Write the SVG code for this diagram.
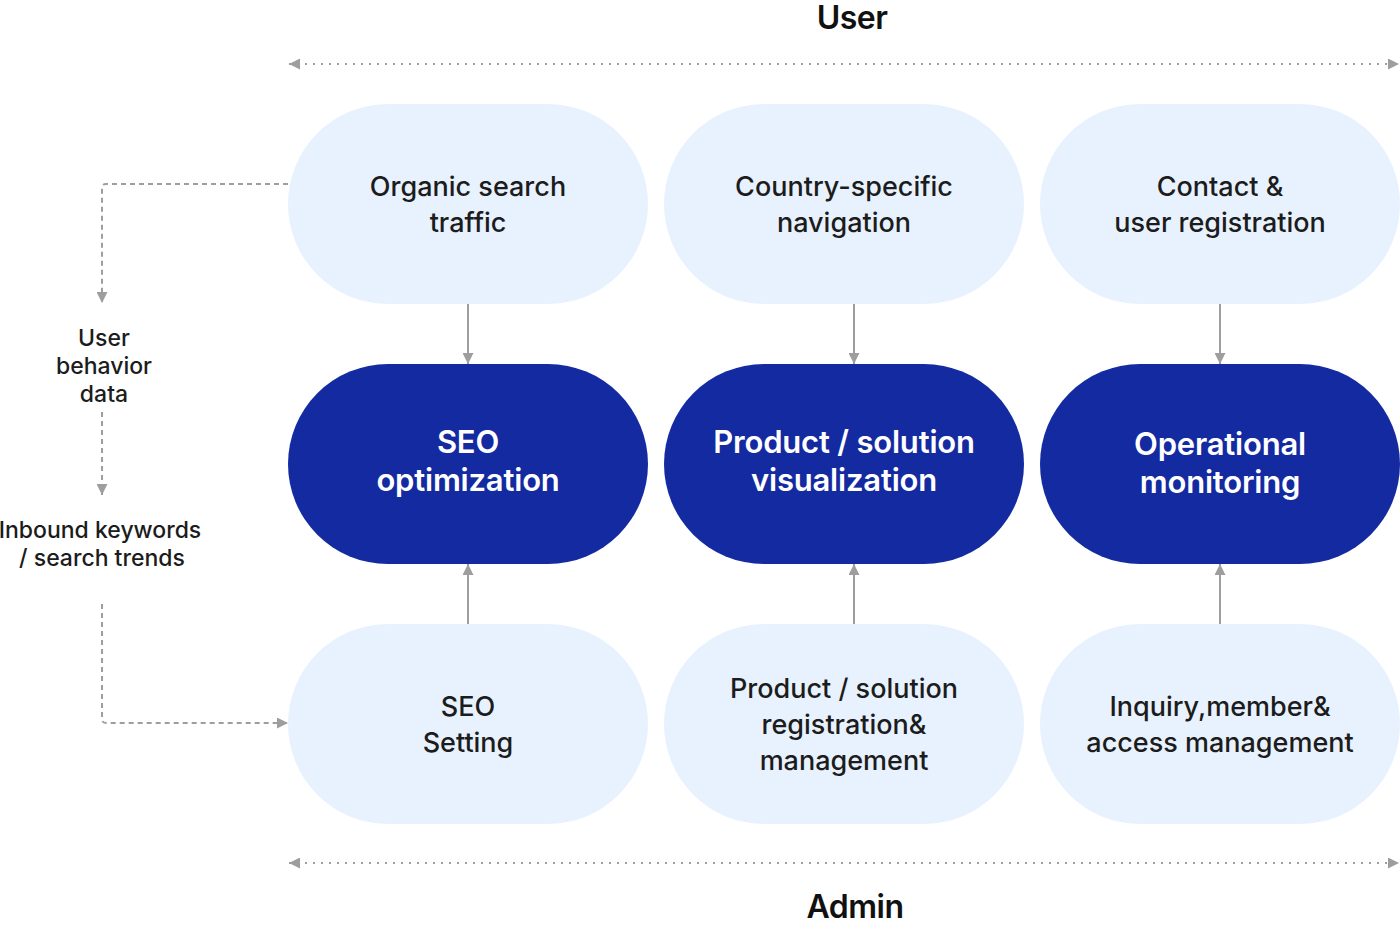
<svg xmlns="http://www.w3.org/2000/svg" width="1400" height="926" viewBox="0 0 1400 926">
<style>
.lt{fill:#e8f2fe}
.dk{fill:#142aa0}
.t{font-family:Inter,"Noto Sans",sans-serif;font-size:27px;font-weight:500;fill:#1c1c1c;text-anchor:middle}
.tw{font-family:Inter,"Noto Sans",sans-serif;font-size:31px;font-weight:600;fill:#ffffff;text-anchor:middle;letter-spacing:-0.2px}
.side{font-family:Inter,"Noto Sans",sans-serif;font-size:23px;font-weight:500;fill:#1c1c1c;text-anchor:middle}
.hd{font-family:Inter,"Noto Sans",sans-serif;font-size:32px;font-weight:600;fill:#111;text-anchor:middle;letter-spacing:-0.5px}
.solid{stroke:#9e9e9e;stroke-width:2;fill:none}
.dot{stroke:#9e9e9e;stroke-width:2;fill:none;stroke-dasharray:2 6}
.dash{stroke:#9e9e9e;stroke-width:2;fill:none;stroke-dasharray:5 4}
</style>
<defs>
<marker id="ah" viewBox="0 0 10 10" refX="10" refY="5" markerWidth="11" markerHeight="11" markerUnits="userSpaceOnUse" orient="auto-start-reverse">
<path d="M0,0 L10,5 L0,10 Z" fill="#9e9e9e"/>
</marker>
</defs>
<text class="hd" x="852" y="29">User</text>
<text class="hd" x="855" y="918">Admin</text>
<g id="connectors">
<line class="dot" x1="289" y1="64" x2="1399" y2="64" marker-start="url(#ah)" marker-end="url(#ah)"/>
<line class="dot" x1="289" y1="863" x2="1399" y2="863" marker-start="url(#ah)" marker-end="url(#ah)"/>
<path class="dash" d="M288,184 H106 Q102,184 102,188 V303" marker-end="url(#ah)"/>
<path class="dash" d="M102,412 V495" marker-end="url(#ah)"/>
<path class="dash" d="M102,604 V719 Q102,723 106,723 H288" marker-end="url(#ah)"/>
<line class="solid" x1="468" y1="304" x2="468" y2="364" marker-end="url(#ah)"/>
<line class="solid" x1="854" y1="304" x2="854" y2="364" marker-end="url(#ah)"/>
<line class="solid" x1="1220" y1="304" x2="1220" y2="364" marker-end="url(#ah)"/>
<line class="solid" x1="468" y1="624" x2="468" y2="564" marker-end="url(#ah)"/>
<line class="solid" x1="854" y1="624" x2="854" y2="564" marker-end="url(#ah)"/>
<line class="solid" x1="1220" y1="624" x2="1220" y2="564" marker-end="url(#ah)"/>
</g>
<g id="side-labels">
<text class="side" x="104" y="346">User</text>
<text class="side" x="104" y="374">behavior</text>
<text class="side" x="104" y="402">data</text>
<text class="side" x="100" y="538">Inbound keywords</text>
<text class="side" x="102" y="566">/ search trends</text>
</g>
<g id="n-organic"><rect class="lt" x="288" y="104" width="360" height="200" rx="100"/><text class="t" x="468" y="196">Organic search</text><text class="t" x="468" y="232">traffic</text></g>
<g id="n-country"><rect class="lt" x="664" y="104" width="360" height="200" rx="100"/><text class="t" x="844" y="196">Country-specific</text><text class="t" x="844" y="232">navigation</text></g>
<g id="n-contact"><rect class="lt" x="1040" y="104" width="360" height="200" rx="100"/><text class="t" x="1220" y="196">Contact &amp;</text><text class="t" x="1220" y="232">user registration</text></g>
<g id="n-seo"><rect class="dk" x="288" y="364" width="360" height="200" rx="100"/><text class="tw" x="468" y="453">SEO</text><text class="tw" x="468" y="491">optimization</text></g>
<g id="n-product"><rect class="dk" x="664" y="364" width="360" height="200" rx="100"/><text class="tw" x="844" y="453">Product / solution</text><text class="tw" x="844" y="491">visualization</text></g>
<g id="n-ops"><rect class="dk" x="1040" y="364" width="360" height="200" rx="100"/><text class="tw" x="1220" y="455">Operational</text><text class="tw" x="1220" y="493">monitoring</text></g>
<g id="n-seoset"><rect class="lt" x="288" y="624" width="360" height="200" rx="100"/><text class="t" x="468" y="716">SEO</text><text class="t" x="468" y="752">Setting</text></g>
<g id="n-prodreg"><rect class="lt" x="664" y="624" width="360" height="200" rx="100"/><text class="t" x="844" y="698">Product / solution</text><text class="t" x="844" y="734">registration&amp;</text><text class="t" x="844" y="770">management</text></g>
<g id="n-inquiry"><rect class="lt" x="1040" y="624" width="360" height="200" rx="100"/><text class="t" x="1220" y="716">Inquiry,member&amp;</text><text class="t" x="1220" y="752">access management</text></g>
</svg>
